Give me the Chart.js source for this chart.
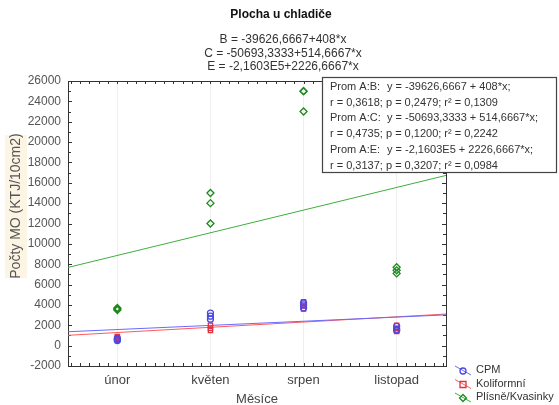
<!DOCTYPE html>
<html>
<head>
<meta charset="utf-8">
<script src="https://cdn.jsdelivr.net/npm/chart.js@4"></script>
<style>
  html, body { margin: 0; padding: 0; background: #fff; }
  canvas { display: block; }
</style>
</head>
<body>
<canvas id="chart" width="559" height="405"></canvas>
<script>
// months on the x axis, and the numeric x used by the regression
const months = ["únor", "květen", "srpen", "listopad"];
const monthX = [101, 102, 103, 104];

// three measurements per month
const cpm = [
  [500, 600, 700],
  [3200, 2900, 2600],
  [3700, 4000, 4200],
  [1900, 1600, 1500],
];
const koliformni = [
  [700, 800, 900],
  [2000, 1700, 1500],
  [3600, 3900, 4300],
  [2000, 1700, 1400],
];
const plisne = [
  [3500, 3600, 3700],
  [15000, 14000, 12000],
  [25000, 25000, 23000],
  [7700, 7400, 7100],
];

// fitted lines as printed on the chart: y = a + b*x
const fitB = [-39626.6667, 408];
const fitC = [-50693.3333, 514.6667];
const fitE = [-216030, 2226.6667];

const seriesNames = ["CPM", "Koliformní", "Plísně/Kvasinky"];
const equations = [
  "B = -39626,6667+408*x",
  "C = -50693,3333+514,6667*x",
  "E = -2,1603E5+2226,6667*x",
];
const statLines = [
  ["Prom A:B:", "y = -39626,6667 + 408*x;"],
  ["r = 0,3618; p = 0,2479; r² = 0,1309", ""],
  ["Prom A:C:", "y = -50693,3333 + 514,6667*x;"],
  ["r = 0,4735; p = 0,1200; r² = 0,2242", ""],
  ["Prom A:E:", "y = -2,1603E5 + 2226,6667*x;"],
  ["r = 0,3137; p = 0,3207; r² = 0,0984", ""],
];

const X_MIN = 100.47, X_MAX = 104.53;
const FONT = '"Liberation Sans", Arial, sans-serif';

const blue = "#4a4ae6", red = "#e3303f", green = "#1c8a1c";
const blueLine = "#6a6aff", redLine = "#ff5a5a", greenLine = "#3fae3f";

function toPoints(rows) {
  const pts = [];
  rows.forEach((vals, i) => vals.forEach(v => pts.push({ x: monthX[i], y: v })));
  return pts;
}
function fitLine(f) {
  return [X_MIN, X_MAX].map(x => ({ x: x, y: f[0] + f[1] * x }));
}

function lineSet(f, color) {
  return {
    type: "line", data: fitLine(f), borderColor: color, borderWidth: 1,
    pointRadius: 0, fill: false, order: 2,
  };
}
function pointSet(rows, color, style) {
  return {
    type: "scatter", data: toPoints(rows), borderColor: color,
    backgroundColor: "rgba(0,0,0,0)", pointStyle: style,
    pointRadius: style === "rectRot" ? 3.5 : 3, pointBorderWidth: 1.3, order: 1,
  };
}

function drawMarker(ctx, style, x, y, color) {
  ctx.save();
  ctx.strokeStyle = color;
  ctx.lineWidth = 1.3;
  ctx.beginPath();
  if (style === "circle") ctx.arc(x, y, 3, 0, Math.PI * 2);
  else if (style === "rect") ctx.rect(x - 3, y - 3, 6, 6);
  else { ctx.moveTo(x, y - 3.5); ctx.lineTo(x + 3.5, y); ctx.lineTo(x, y + 3.5); ctx.lineTo(x - 3.5, y); ctx.closePath(); }
  ctx.stroke();
  ctx.restore();
}

const framePlugin = {
  id: "frame",
  beforeDatasetsDraw(chart) {
    const { ctx, chartArea: a, scales } = chart;
    ctx.save();
    ctx.strokeStyle = "#333";
    ctx.lineWidth = 1;
    ctx.strokeRect(Math.round(a.left) + 0.5, Math.round(a.top) + 0.5,
      Math.round(a.right - a.left), Math.round(a.bottom - a.top));
    ctx.beginPath();
    // inward ticks on left and right, every 1000
    for (let v = -2000; v <= 26000; v += 1000) {
      const y = Math.round(scales.y.getPixelForValue(v)) + 0.5;
      const len = v % 2000 === 0 ? 4 : 3;
      ctx.moveTo(a.left, y); ctx.lineTo(a.left + len, y);
      ctx.moveTo(a.right, y); ctx.lineTo(a.right - len, y);
    }
    // inward ticks on top and bottom, every 0.1
    for (let k = 1005; k <= 1045; k++) {
      const x = Math.round(scales.x.getPixelForValue(k / 10)) + 0.5;
      ctx.moveTo(x, a.bottom); ctx.lineTo(x, a.bottom - 3);
      ctx.moveTo(x, a.top); ctx.lineTo(x, a.top + 3);
    }
    ctx.stroke();
    ctx.restore();
  },
  afterDraw(chart) {
    const { ctx } = chart;
    ctx.save();
    ctx.textBaseline = "middle";

    // title and equations
    ctx.textAlign = "center";
    ctx.fillStyle = "#111";
    ctx.font = "bold 12px " + FONT;
    ctx.fillText("Plocha u chladiče", 281, 15);
    ctx.fillStyle = "#333";
    ctx.font = "12px " + FONT;
    equations.forEach((t, i) => ctx.fillText(t, 283, 40 + i * 13.5));

    // y axis title with beige background
    ctx.fillStyle = "#fdf5e4";
    ctx.fillRect(5, 135, 22, 143);
    ctx.save();
    ctx.translate(16, 206);
    ctx.rotate(-Math.PI / 2);
    ctx.fillStyle = "#555";
    ctx.font = "14px " + FONT;
    ctx.fillText("Počty MO (KTJ/10cm2)", 0, 0);
    ctx.restore();

    // x axis title
    ctx.fillStyle = "#444";
    ctx.font = "13px " + FONT;
    ctx.fillText("Měsíce", 257, 399);

    // statistics box
    ctx.fillStyle = "#fff";
    ctx.fillRect(322, 77, 235, 96);
    ctx.strokeStyle = "#444";
    ctx.lineWidth = 1.2;
    ctx.strokeRect(322.5, 77.5, 234, 95);
    ctx.textAlign = "left";
    ctx.fillStyle = "#333";
    ctx.font = "11px " + FONT;
    statLines.forEach((l, i) => {
      const y = 87 + i * 15.7;
      ctx.fillText(l[0], 330, y);
      if (l[1]) ctx.fillText(l[1], 387, y);
    });

    // legend
    const legendColors = [[blue, blueLine, "circle"], [red, redLine, "rect"], [green, greenLine, "rectRot"]];
    seriesNames.forEach((name, i) => {
      const y = 370 + i * 13.5;
      const [mc, lc, st] = legendColors[i];
      ctx.strokeStyle = lc;
      ctx.lineWidth = 1;
      ctx.beginPath();
      ctx.moveTo(455, y - 4); ctx.lineTo(471, y + 5);
      ctx.stroke();
      drawMarker(ctx, st, 463, y + 1, mc);
      ctx.fillStyle = "#333";
      ctx.font = "11px " + FONT;
      ctx.fillText(name, 476, y);
    });
    ctx.restore();
  },
};

new Chart(document.getElementById("chart"), {
  data: {
    datasets: [
      lineSet(fitB, blueLine),
      lineSet(fitC, redLine),
      lineSet(fitE, greenLine),
      pointSet(cpm, blue, "circle"),
      pointSet(koliformni, red, "rect"),
      pointSet(plisne, green, "rectRot"),
    ],
  },
  options: {
    responsive: false,
    devicePixelRatio: 1,
    animation: false,
    layout: { padding: { left: 0, top: 81, right: 113, bottom: 0 } },
    plugins: { legend: { display: false }, tooltip: { enabled: false } },
    scales: {
      x: {
        type: "linear",
        min: X_MIN,
        max: X_MAX,
        afterBuildTicks: (s) => { s.ticks = monthX.map(v => ({ value: v })); },
        afterFit: (s) => { s.height = 39; },
        ticks: {
          callback: (v) => months[monthX.indexOf(v)],
          font: { family: FONT, size: 13 },
          color: "#444",
          padding: 7,
          maxRotation: 0,
        },
        grid: { color: "#efefef", drawTicks: false },
        border: { display: false },
      },
      y: {
        min: -2000,
        max: 26000,
        afterFit: (s) => { s.width = 68; },
        ticks: {
          stepSize: 2000,
          callback: (v) => String(v),
          font: { family: FONT, size: 12 },
          color: "#555",
          padding: 7,
        },
        grid: { display: false, drawTicks: false },
        border: { display: false },
      },
    },
  },
  plugins: [framePlugin],
});
</script>
</body>
</html>
